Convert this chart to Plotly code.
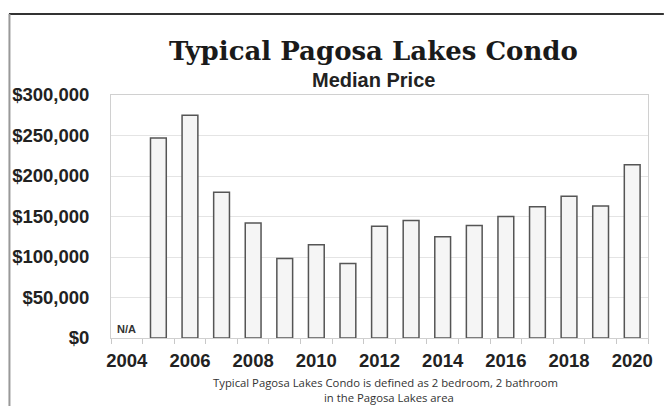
import plotly.graph_objects as go

years = list(range(2004, 2021))
median_price = [None, 247000, 275000, 180000, 142000, 98000, 115000, 92000,
                138000, 145000, 125000, 139000, 150000, 162000, 175000, 163000, 214000]
tick_years = list(range(2004, 2021, 2))
title_text = "Typical Pagosa Lakes Condo"
subtitle_text = "Median Price"
footnote_lines = ["Typical Pagosa Lakes Condo is defined as 2 bedroom, 2 bathroom",
                  "in the Pagosa Lakes area"]
na_label = "N/A"

W, H = 665, 406
ML, MR, MT, MB = 109, 14, 95, 68
PW, PH = W - ML - MR, H - MT - MB

def px_x(px):
    return (px - ML) / PW

def px_y(py):
    return (H - MB - py) / PH

fig = go.Figure()
fig.add_trace(go.Bar(
    x=years, y=median_price, width=0.5,
    marker=dict(color="#f5f5f5", line=dict(color="#555555", width=1.5)),
    hoverinfo="x+y",
))

fig.update_layout(
    width=W, height=H,
    margin=dict(l=ML, r=MR, t=MT, b=MB),
    paper_bgcolor="white", plot_bgcolor="white",
    showlegend=False,
    font=dict(family="Liberation Sans, Arial, sans-serif", color="#222222"),
)

fig.update_xaxes(
    range=[2003.5, 2020.5],
    tickvals=tick_years, ticktext=[str(y) for y in tick_years],
    ticks="", showgrid=False, ticklabelstandoff=6,
    showline=True, linecolor="#d0d0d0", linewidth=1, mirror=True,
    tickfont=dict(size=18.5, family="Liberation Sans, Arial, sans-serif", weight="bold", color="#222222"),
    minor=dict(tickvals=[y + 0.5 for y in [2003] + years], ticks="outside", ticklen=5,
               tickcolor="#c8c8c8", showgrid=False),
)
fig.update_yaxes(
    range=[0, 300000], dtick=50000, tickprefix="$", tickformat=",.0f",
    showgrid=True, gridcolor="#e4e4e4", gridwidth=1,
    showline=True, linecolor="#d0d0d0", linewidth=1, mirror=True,
    zeroline=False, ticks="", ticklabelstandoff=17,
    tickfont=dict(size=18.5, family="Liberation Sans, Arial, sans-serif", weight="bold", color="#222222"),
)

ann = []
ann.append(dict(text=title_text, x=px_x(373.5), y=px_y(51), xref="paper", yref="paper",
                showarrow=False, xanchor="center", yanchor="middle",
                font=dict(family="DejaVu Serif, serif", size=26, weight="bold", color="#1a1a1a")))
ann.append(dict(text=subtitle_text, x=px_x(374), y=px_y(80), xref="paper", yref="paper",
                showarrow=False, xanchor="center", yanchor="middle",
                font=dict(size=20, weight="bold", color="#222222")))
ann.append(dict(text=footnote_lines[0], x=px_x(386.5), y=px_y(382), xref="paper", yref="paper",
                showarrow=False, xanchor="center", yanchor="middle",
                font=dict(family="Open Sans, sans-serif", size=11.3, color="#333333")))
ann.append(dict(text=footnote_lines[1], x=px_x(390), y=px_y(397), xref="paper", yref="paper",
                showarrow=False, xanchor="center", yanchor="middle",
                font=dict(family="Open Sans, sans-serif", size=11.3, color="#333333")))
ann.append(dict(text=na_label, x=years[0], y=0, xref="x", yref="y",
                showarrow=False, xanchor="center", yanchor="bottom", yshift=1,
                font=dict(size=11, weight="bold", color="#333333")))
fig.update_layout(annotations=ann)

# outer frame (top and left lines)
fig.add_shape(type="line", xref="paper", yref="paper",
              x0=px_x(6), x1=px_x(W + 2), y0=px_y(14), y1=px_y(14),
              line=dict(color="#333333", width=2))
fig.add_shape(type="line", xref="paper", yref="paper",
              x0=px_x(6.5), x1=px_x(6.5), y0=px_y(14), y1=px_y(H + 2),
              line=dict(color="#999999", width=2))

fig.write_html("out.html", config={"displayModeBar": False},
               post_script="document.body.style.margin='0px';document.body.style.overflow='hidden';")
